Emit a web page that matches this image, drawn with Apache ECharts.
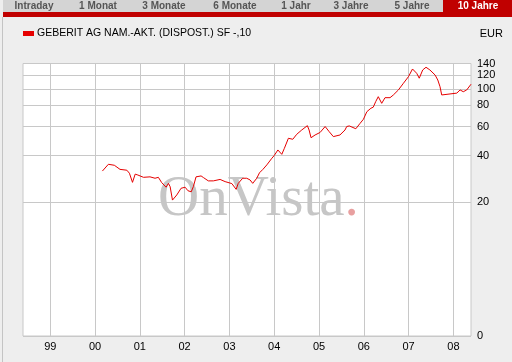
<!DOCTYPE html>
<html>
<head>
<meta charset="utf-8">
<script src="https://cdn.jsdelivr.net/npm/echarts@6/dist/echarts.min.js"></script>
<style>
html,body{margin:0;padding:0;background:#eeeeee;}
#c{width:512px;height:362px;}
</style>
</head>
<body>
<div id="c"></div>
<script>
// ---- data ----
const seriesName = 'GEBERIT AG NAM.-AKT. (DISPOST.) SF -,10';
const currency = 'EUR';
const tabs = ['Intraday', '1 Monat', '3 Monate', '6 Monate', '1 Jahr', '3 Jahre', '5 Jahre', '10 Jahre'];
const dates = [
 '2000-03-01','2000-04-19','2000-06-07','2000-07-23','2000-09-17','2000-10-08','2000-11-02','2000-11-24','2000-12-16',
 '2001-01-31','2001-03-25','2001-05-05','2001-06-01','2001-06-28','2001-08-03','2001-08-22','2001-09-05','2001-09-24','2001-10-29','2001-12-03',
 '2002-01-05','2002-01-28','2002-02-24','2002-03-13','2002-04-04','2002-05-15','2002-06-03','2002-07-13','2002-08-23','2002-10-17','2002-11-27',
 '2003-01-21','2003-02-04','2003-02-25','2003-03-14','2003-04-19','2003-05-22','2003-06-18','2003-07-10','2003-08-12','2003-09-03','2003-10-01','2003-11-02','2003-12-13',
 '2004-01-01','2004-01-31','2004-03-03','2004-03-24','2004-04-26','2004-06-01','2004-07-03','2004-08-13','2004-09-28','2004-10-12','2004-10-28','2004-11-30',
 '2005-01-10','2005-02-20','2005-03-25','2005-04-28','2005-06-21','2005-08-01','2005-08-15','2005-09-05','2005-10-28','2005-12-02','2005-12-29',
 '2006-01-26','2006-02-28','2006-03-19','2006-04-08','2006-04-29','2006-05-27','2006-06-23','2006-08-03','2006-08-30','2006-10-10','2006-11-20','2006-12-31',
 '2007-02-02','2007-03-08','2007-03-29','2007-04-26','2007-05-23','2007-06-24','2007-08-05','2007-08-27','2007-09-14','2007-09-28','2007-10-11',
 '2008-01-29','2008-02-25','2008-03-22','2008-04-19','2008-05-24'
];
const prices = [
 32.0,35.3,34.8,32.8,32.4,31.0,27.1,30.6,30.2,
 29.2,29.4,28.8,29.2,27.0,25.2,26.7,25.4,20.7,22.4,24.8,
 25.2,23.9,23.5,25.4,29.4,29.8,29.1,27.7,27.7,28.3,27.4,
 26.6,26.0,24.4,26.7,28.8,28.8,28.1,26.7,28.8,31.2,32.8,35.0,38.5,
 40.0,43.3,40.7,44.3,51.0,50.3,53.9,57.2,60.7,57.2,51.4,53.4,
 55.3,60.0,55.9,52.2,53.4,57.2,60.0,60.5,58.2,62.7,66.3,
 73.5,77.0,78.1,84.2,90.0,82.3,88.8,88.8,92.1,98.5,107.7,117.6,
 130.2,123.0,115.2,128.5,133.2,128.5,120.2,112.5,102.9,92.1,94.4,
 94.4,98.5,96.2,98.5,106.3
];
const yearTicks = [1999, 2000, 2001, 2002, 2003, 2004, 2005, 2006, 2007, 2008];
const priceTicks = [0, 20, 40, 60, 80, 100, 120, 140];
const xStart = '1998-05-24';
const xEnd = '2008-05-24';

// ---- helpers ----
const OFFSET = 4.4; // offset of the chart's shifted-log price scale
function decYear(s) {
  const p = s.split('-').map(Number);
  const t0 = Date.UTC(p[0], 0, 1), t1 = Date.UTC(p[0] + 1, 0, 1);
  return p[0] + (Date.UTC(p[0], p[1] - 1, p[2]) - t0) / (t1 - t0);
}
const lineData = dates.map((d, i) => [decYear(d), prices[i] + OFFSET]);

const chart = echarts.init(document.getElementById('c'), null, {renderer: 'canvas', width: 512, height: 362});

const tabCenters = [34, 98, 164, 235, 296, 351, 412, 478];
const graphics = [
  {type: 'rect', shape: {x: 3, y: 0, width: 509, height: 13}, style: {fill: '#d4d4d4'}, z: -10},
  {type: 'rect', shape: {x: 443, y: 0, width: 69, height: 13}, style: {fill: '#c00000'}, z: -9},
  {type: 'rect', shape: {x: 3, y: 12, width: 509, height: 5}, style: {fill: '#c00000'}, z: -9},
  {type: 'line', shape: {x1: 2.5, y1: 17, x2: 2.5, y2: 362}, style: {stroke: '#c4c4c4', lineWidth: 1}, z: -9},
  {type: 'text', x: 503, y: 33.5, style: {text: currency, font: '11px "Liberation Sans", Arial, sans-serif', fill: '#000', align: 'right', verticalAlign: 'middle'}},
  {type: 'text', x: 158, y: 200, z: 1,
   style: {text: '{a|OnVista}{b|.}', verticalAlign: 'middle',
     rich: {a: {font: '57px "Liberation Serif", "Times New Roman", serif', fill: '#c6c6c6'},
            b: {font: '57px "Liberation Serif", "Times New Roman", serif', fill: '#e8a0a0'}}}}
];
tabs.forEach((t, i) => {
  graphics.push({type: 'text', x: tabCenters[i], y: 6.5,
    style: {text: t, font: 'bold 10px "Liberation Sans", Arial, sans-serif',
      fill: i === tabs.length - 1 ? '#ffffff' : '#555555', align: 'center', verticalAlign: 'middle'}});
});

chart.setOption({
  animation: false,
  backgroundColor: '#eeeeee',
  textStyle: {fontFamily: '"Liberation Sans", Arial, sans-serif'},
  legend: {
    left: 18, top: 23, itemWidth: 11, itemHeight: 5, itemGap: 4, icon: 'rect',
    textStyle: {fontSize: 10.5, color: '#000', padding: [0, 0, 0, -2]},
    data: [seriesName]
  },
  grid: {left: 23, right: 41, top: 63.5, bottom: 26, show: true, backgroundColor: '#ffffff', borderColor: '#c8c8c8', borderWidth: 1},
  xAxis: {
    type: 'value', min: decYear(xStart), max: decYear(xEnd),
    axisLine: {show: false}, axisTick: {show: false, customValues: yearTicks},
    axisLabel: {customValues: yearTicks, formatter: v => String(Math.round(v) % 100).padStart(2, '0'), color: '#000', fontSize: 11, margin: 5},
    splitLine: {show: true, lineStyle: {color: '#c8c8c8', width: 1}}
  },
  yAxis: {
    type: 'log', position: 'right', logBase: 10,
    min: OFFSET, max: 140 + OFFSET,
    axisLine: {show: false}, axisTick: {show: false, customValues: priceTicks.map(v => v + OFFSET)},
    axisLabel: {customValues: priceTicks.map(v => v + OFFSET), formatter: v => String(Math.round(v - OFFSET)), color: '#000', fontSize: 11, margin: 6},
    splitLine: {show: true, lineStyle: {color: '#c8c8c8', width: 1}}
  },
  graphic: graphics,
  series: [{
    name: seriesName, type: 'line', data: lineData, showSymbol: false, z: 5,
    itemStyle: {color: '#e60000'},
    lineStyle: {color: '#e60000', width: 1}
  }]
});
</script>
</body>
</html>
